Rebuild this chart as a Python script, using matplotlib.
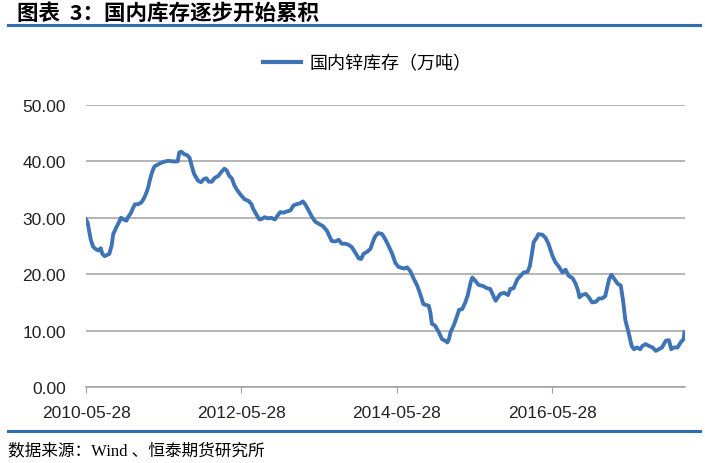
import matplotlib.pyplot as plt
from matplotlib.lines import Line2D

plt.rcParams['font.family'] = ['Noto Sans CJK SC', 'DejaVu Sans']

# decimal year (2010.40 = 2010-05-28)
years = [2010.40, 2010.42, 2010.44, 2010.46, 2010.49, 2010.52, 2010.56, 2010.59, 2010.61, 2010.64,
         2010.67, 2010.70, 2010.73, 2010.75, 2010.79, 2010.82, 2010.85, 2010.88, 2010.92, 2010.94,
         2010.98, 2011.00, 2011.03, 2011.07, 2011.11, 2011.14, 2011.17, 2011.20, 2011.22, 2011.25,
         2011.28, 2011.32, 2011.36, 2011.42, 2011.46, 2011.52, 2011.58, 2011.60, 2011.63, 2011.66,
         2011.70, 2011.73, 2011.76, 2011.79, 2011.84, 2011.88, 2011.92, 2011.95, 2011.98, 2012.02,
         2012.05, 2012.10, 2012.14, 2012.18, 2012.21, 2012.24, 2012.28, 2012.31, 2012.35, 2012.40,
         2012.44, 2012.49, 2012.53, 2012.55, 2012.60, 2012.63, 2012.66, 2012.70, 2012.74, 2012.78,
         2012.83, 2012.87, 2012.90, 2012.94, 2012.98, 2013.03, 2013.07, 2013.11, 2013.16, 2013.19,
         2013.22, 2013.26, 2013.31, 2013.35, 2013.40, 2013.45, 2013.50, 2013.53, 2013.56, 2013.61,
         2013.65, 2013.69, 2013.74, 2013.78, 2013.82, 2013.86, 2013.91, 2013.94, 2013.97, 2014.02,
         2014.06, 2014.09, 2014.12, 2014.16, 2014.21, 2014.25, 2014.29, 2014.34, 2014.38, 2014.42,
         2014.49, 2014.53, 2014.57, 2014.62, 2014.66, 2014.70, 2014.74, 2014.81, 2014.83, 2014.85,
         2014.89, 2014.94, 2014.98, 2015.02, 2015.05, 2015.07, 2015.09, 2015.13, 2015.17, 2015.20,
         2015.24, 2015.28, 2015.31, 2015.35, 2015.37, 2015.41, 2015.45, 2015.51, 2015.56, 2015.60,
         2015.64, 2015.67, 2015.70, 2015.73, 2015.78, 2015.83, 2015.86, 2015.90, 2015.95, 2015.99,
         2016.03, 2016.08, 2016.11, 2016.14, 2016.16, 2016.20, 2016.22, 2016.27, 2016.31, 2016.35,
         2016.40, 2016.44, 2016.48, 2016.53, 2016.57, 2016.61, 2016.66, 2016.70, 2016.73, 2016.75,
         2016.78, 2016.83, 2016.87, 2016.91, 2016.96, 2017.00, 2017.04, 2017.08, 2017.13, 2017.16,
         2017.19, 2017.24, 2017.28, 2017.31, 2017.34, 2017.38, 2017.42, 2017.45, 2017.49, 2017.53,
         2017.56, 2017.60, 2017.64, 2017.69, 2017.73, 2017.77, 2017.81, 2017.86, 2017.90, 2017.93,
         2017.96, 2018.01, 2018.05, 2018.09, 2018.10]

# 国内锌库存 (万吨)
stock = [29.7, 29.2, 27.7, 26.2, 24.9, 24.5, 24.2, 24.6, 23.6, 23.2,
         23.4, 23.6, 25.1, 27.1, 28.3, 29.1, 30.0, 29.7, 29.5, 30.1,
         30.9, 31.6, 32.4, 32.4, 32.7, 33.3, 34.2, 35.4, 36.6, 38.1,
         39.1, 39.4, 39.7, 40.0, 40.1, 40.0, 40.0, 41.6, 41.7, 41.3,
         41.1, 40.7, 39.2, 37.8, 36.6, 36.3, 36.9, 37.0, 36.4, 36.4,
         37.0, 37.4, 38.1, 38.7, 38.4, 37.5, 36.9, 35.7, 34.8, 33.9,
         33.3, 33.0, 32.4, 31.6, 30.4, 29.7, 29.8, 30.1, 29.9, 30.0,
         29.7, 30.5, 31.0, 30.9, 31.1, 31.3, 32.2, 32.4, 32.6, 32.9,
         32.4, 31.4, 30.1, 29.3, 28.9, 28.5, 27.7, 26.8, 25.9, 25.8,
         26.1, 25.4, 25.4, 25.2, 24.8, 23.9, 22.8, 22.7, 23.6, 24.0,
         24.5, 25.7, 26.7, 27.3, 27.1, 26.2, 25.1, 23.6, 22.0, 21.3,
         21.0, 21.2, 20.6, 19.1, 18.0, 16.5, 14.7, 14.4, 13.2, 11.2,
         10.9, 9.7, 8.5, 8.2, 7.9, 8.5, 9.7, 10.9, 12.4, 13.7,
         13.8, 15.0, 16.2, 18.6, 19.4, 18.8, 18.1, 17.9, 17.5, 17.4,
         16.2, 15.3, 15.9, 16.5, 16.7, 16.3, 17.4, 17.5, 19.1, 19.7,
         20.3, 20.4, 21.4, 23.9, 25.7, 26.5, 27.1, 27.0, 26.5, 25.4,
         23.3, 22.1, 21.4, 20.3, 20.8, 19.7, 19.3, 18.3, 17.1, 15.9,
         16.3, 16.5, 15.9, 15.0, 15.1, 15.7, 15.7, 16.1, 19.1, 19.9,
         19.3, 18.3, 18.0, 15.3, 11.8, 9.7, 7.3, 6.7, 7.0, 6.7,
         7.3, 7.6, 7.3, 7.0, 6.4, 6.7, 7.0, 8.2, 8.3, 6.7,
         7.0, 7.0, 7.9, 8.5, 9.7]

tick_pos = [2010.40, 2012.40, 2014.40, 2016.40]
tick_labels = ['2010-05-28', '2012-05-28', '2014-05-28', '2016-05-28']
y_ticks = [0, 10, 20, 30, 40, 50]

blue = '#3E74B6'
bar_blue = '#2E6DB0'

fig = plt.figure(figsize=(7.05, 4.64), dpi=100)
ax = fig.add_axes([0.122, 0.1638, 0.850, 0.6078])

ax.plot(years, stock, color=blue, lw=2.8, solid_joinstyle='round')

ax.set_xlim(2010.40, 2018.11)
ax.set_ylim(0, 50)
ax.set_yticks(y_ticks)
ax.set_yticklabels(['%.2f' % v for v in y_ticks], family='Liberation Sans', fontsize=12.5, color='#222222')
ax.set_xticks(tick_pos)
ax.set_xticklabels(tick_labels, family='Liberation Sans', fontsize=12.5, color='#222222')
ax.tick_params(axis='y', length=0, pad=14.5)
ax.tick_params(axis='x', length=4, color='#A0A0A0', pad=9)
ax.grid(axis='y', color='#A0A0A0', lw=1.1)
ax.set_axisbelow(True)
for s in ['top', 'right', 'left']:
    ax.spines[s].set_visible(False)
ax.spines['bottom'].set_color('#A0A0A0')
ax.spines['bottom'].set_linewidth(1.1)

handle = Line2D([], [], color=blue, lw=3)
fig.legend([handle], ['国内锌库存（万吨）'], loc='center', bbox_to_anchor=(0.521, 0.862),
           frameon=False, fontsize=13, handlelength=2.1, handletextpad=0.45)

fig.text(0.024, 0.972, '图表  3：国内库存逐步开始累积', fontsize=15.5, weight='bold', va='center', ha='left')
fig.add_artist(Line2D([0.011, 0.993], [0.944, 0.944], color=bar_blue, lw=2.2))
fig.add_artist(Line2D([0.011, 0.993], [0.068, 0.068], color=bar_blue, lw=2.2))
fig.text(0.012, 0.028, '数据来源：Wind 、恒泰期货研究所', fontsize=12, va='center', ha='left',
         family=['Liberation Serif', 'Noto Sans CJK SC'])

fig.savefig('out.png', dpi=100)
